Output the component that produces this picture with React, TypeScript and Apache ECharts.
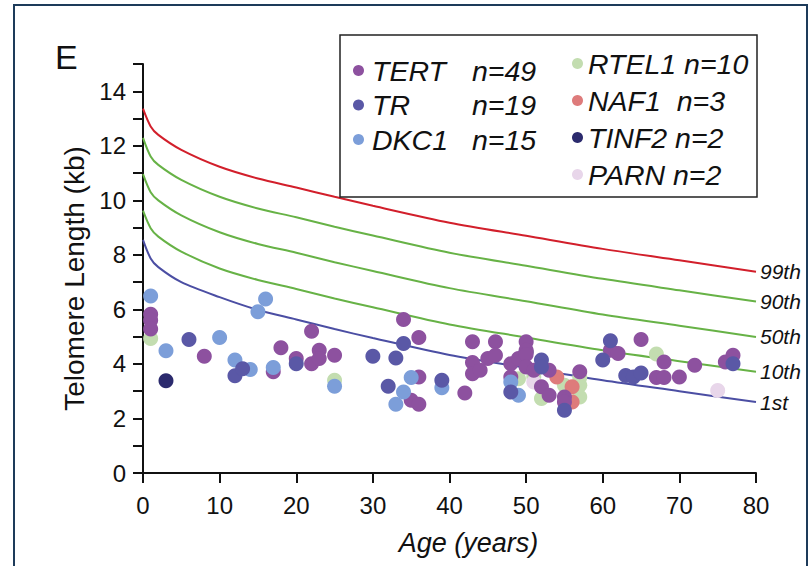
import React, { useEffect, useRef } from "react";
import * as echarts from "echarts";

const FONT = "'Liberation Sans', Arial, Helvetica, sans-serif";

// Age-specific percentile curves (kb)
const curveAges = [0, 1, 2, 5, 10, 15, 20, 25, 30, 40, 50, 60, 70, 80];
const p99 = [13.36, 12.71, 12.4, 11.85, 11.23, 10.8, 10.47, 10.13, 9.8, 9.18, 8.7, 8.22, 7.8, 7.38];
const p90 = [12.29, 11.61, 11.3, 10.75, 10.13, 9.7, 9.38, 9.03, 8.71, 8.08, 7.6, 7.12, 6.7, 6.29];
const p50 = [10.96, 10.3, 10.0, 9.45, 8.83, 8.4, 8.08, 7.73, 7.41, 6.78, 6.3, 5.81, 5.4, 4.99];
const p10 = [9.62, 8.98, 8.67, 8.12, 7.5, 7.08, 6.75, 6.4, 6.08, 5.45, 4.97, 4.5, 4.1, 3.71];
const p1 = [8.55, 7.87, 7.55, 7.0, 6.45, 5.98, 5.63, 5.28, 4.95, 4.33, 3.86, 3.4, 3.0, 2.6];

// Patients: [age (years), telomere length (kb)]
const tert = [
  [1, 5.82], [1, 5.6], [1, 5.28], [8, 4.28], [17, 3.71], [18, 4.59], [20, 4.2],
  [22, 5.2], [22, 4.01], [23, 4.5], [23, 4.2], [25, 4.32], [34, 5.63], [35, 2.67],
  [36, 4.97], [36, 3.52], [36, 2.52], [42, 2.93], [43, 4.81], [43, 4.05], [43, 3.64],
  [44, 3.77], [45, 4.2], [46, 4.81], [46, 4.32], [48, 4.01], [48, 3.52], [49, 4.2],
  [50, 4.81], [50, 4.5], [50, 4.35], [50, 3.89], [51, 3.77], [52, 3.16], [53, 3.77],
  [53, 2.85], [55, 2.79], [55, 2.6], [57, 3.71], [61, 4.5], [62, 4.38], [65, 4.9],
  [67, 3.5], [68, 4.07], [68, 3.5], [70, 3.52], [72, 3.95], [76, 4.07], [77, 4.32],
];
const tr = [
  [6, 4.9], [12, 3.57], [13, 3.82], [20, 4.01], [30, 4.28], [32, 3.18], [33, 4.22],
  [34, 4.75], [39, 3.4], [48, 2.97], [52, 4.14], [52, 3.89], [55, 2.3], [60, 4.14],
  [61, 4.85], [63, 3.58], [64, 3.52], [65, 3.67], [77, 4.01],
];
const dkc1 = [
  [1, 6.49], [3, 4.48], [10, 4.97], [12, 4.14], [14, 3.8], [15, 5.91], [16, 6.38],
  [17, 3.87], [25, 3.18], [33, 2.52], [34, 2.97], [35, 3.5], [39, 3.13], [48, 3.34],
  [49, 2.85],
];
const rtel1 = [
  [1, 4.93], [25, 3.4], [49, 3.46], [51, 3.52], [52, 2.73], [55, 3.22], [57, 3.22],
  [57, 2.79], [57, 3.5], [67, 4.36],
];
const naf1 = [[54, 3.52], [56, 3.16], [56, 2.6]];
const tinf2 = [[3, 3.38], [50, 4.44]];
const parn = [[51, 3.34], [75, 3.03]];

const groupCounts: Record<string, number> = {
  TERT: 49, TR: 19, DKC1: 15, RTEL1: 10, NAF1: 3, TINF2: 2, PARN: 2,
};

const colors: Record<string, string> = {
  TERT: "#8d519f",
  TR: "#5a58a6",
  DKC1: "#7c9ed9",
  RTEL1: "#c3ddb0",
  NAF1: "#de7b7b",
  TINF2: "#2b2a6d",
  PARN: "#e8d6ea",
};

const curveSeries = (name: string, values: number[], color: string) => ({
  name,
  type: "line",
  data: curveAges.map((a, i) => [a, values[i]]),
  showSymbol: false,
  smooth: 0.3,
  silent: true,
  lineStyle: { color, width: 2 },
  z: 2,
  endLabel: {
    show: true,
    formatter: name,
    distance: 4,
    fontFamily: FONT,
    fontStyle: "italic",
    fontSize: 21,
    color: "#111",
  },
});

const scatterSeries = (name: string, data: number[][], z: number) => ({
  name,
  type: "scatter",
  data,
  symbol: "circle",
  symbolSize: 15,
  itemStyle: { color: colors[name], opacity: 1 },
  z,
});

export default function App() {
  const ref = useRef<HTMLDivElement>(null);

  useEffect(() => {
    if (!ref.current) return;
    const chart = echarts.init(ref.current, null, { renderer: "svg" });

    const legendFont = { fontFamily: FONT, fontStyle: "italic", fontSize: 28.5, color: "#111", lineHeight: 31 };
    const legendBase = {
      orient: "vertical",
      icon: "circle",
      itemWidth: 11,
      itemHeight: 11,
      z: 10,
      selectedMode: false,
      textStyle: { ...legendFont },
    };

    chart.setOption({
      animation: false,
      backgroundColor: "#ffffff",
      textStyle: { fontFamily: FONT },
      grid: { left: 143, right: 54, top: 64, bottom: 93, containLabel: false },
      xAxis: {
        type: "value",
        min: 0,
        max: 80,
        interval: 10,
        name: "Age (years)",
        nameLocation: "middle",
        nameGap: 56,
        nameTextStyle: {
          fontFamily: FONT,
          fontStyle: "italic",
          fontSize: 27,
          color: "#111",
          padding: [0, 0, 0, 38],
        },
        axisLine: { lineStyle: { color: "#111", width: 2 } },
        axisTick: { length: 10, lineStyle: { color: "#111", width: 2 } },
        axisLabel: { fontFamily: FONT, fontSize: 24, color: "#111", margin: 20 },
        splitLine: { show: false },
      },
      yAxis: {
        type: "value",
        min: 0,
        max: 15,
        interval: 1,
        name: "Telomere Length (kb)",
        nameLocation: "middle",
        nameGap: 48,
        nameTextStyle: { fontFamily: FONT, fontSize: 28, color: "#111", padding: [0, 20, 0, 0] },
        axisLine: { show: true, lineStyle: { color: "#111", width: 2 } },
        axisTick: { show: true, length: 10, lineStyle: { color: "#111", width: 2 } },
        axisLabel: {
          fontFamily: FONT,
          fontSize: 24,
          color: "#111",
          margin: 17,
          formatter: (v: number) => (v % 2 === 0 ? String(v) : ""),
        },
        splitLine: { show: false },
      },
      legend: [
        {
          ...legendBase,
          data: ["TERT", "TR", "DKC1"],
          left: 348,
          top: 50,
          itemGap: 3.5,
          formatter: (name: string) => `{a|${name}}{b|n=${groupCounts[name]}}`,
          textStyle: {
            ...legendFont,
            rich: {
              a: { ...legendFont, width: 100, padding: [0, 0, 0, 3] },
              b: { ...legendFont },
            },
          },
        },
        {
          ...legendBase,
          data: ["RTEL1", "NAF1", "TINF2", "PARN"],
          left: 567,
          top: 43,
          itemGap: 6,
          formatter: (name: string) =>
            `{a|${name}${name === "NAF1" ? "  " : " "}n=${groupCounts[name]}}`,
          textStyle: {
            ...legendFont,
            rich: { a: { ...legendFont } },
          },
        },
      ],
      graphic: [
        {
          type: "rect",
          shape: { x: 14, y: 5, width: 793, height: 600 },
          style: { fill: "none", stroke: "#1d3b5a", lineWidth: 2 },
          silent: true,
          z: 0,
        },
        {
          type: "rect",
          shape: { x: 340, y: 35, width: 417, height: 162 },
          style: { fill: "#ffffff", stroke: "#222", lineWidth: 1.5 },
          silent: true,
          z: 5,
        },
        {
          type: "text",
          x: 55,
          y: 40,
          style: { text: "E", fontFamily: FONT, fontSize: 34, fill: "#111" },
          silent: true,
        },
      ],
      series: [
        curveSeries("99th", p99, "#d21f2b"),
        curveSeries("90th", p90, "#67b246"),
        curveSeries("50th", p50, "#67b246"),
        curveSeries("10th", p10, "#67b246"),
        curveSeries("1st", p1, "#4b4ea3"),
        scatterSeries("RTEL1", rtel1, 3),
        scatterSeries("PARN", parn, 3),
        scatterSeries("TINF2", tinf2, 4),
        scatterSeries("NAF1", naf1, 4),
        scatterSeries("TERT", tert, 5),
        scatterSeries("DKC1", dkc1, 6),
        scatterSeries("TR", tr, 7),
      ],
    });

    return () => chart.dispose();
  }, []);

  return (
    <div
      ref={ref}
      style={{ position: "fixed", left: 0, top: 0, width: 810, height: 566, background: "#fff" }}
    />
  );
}
